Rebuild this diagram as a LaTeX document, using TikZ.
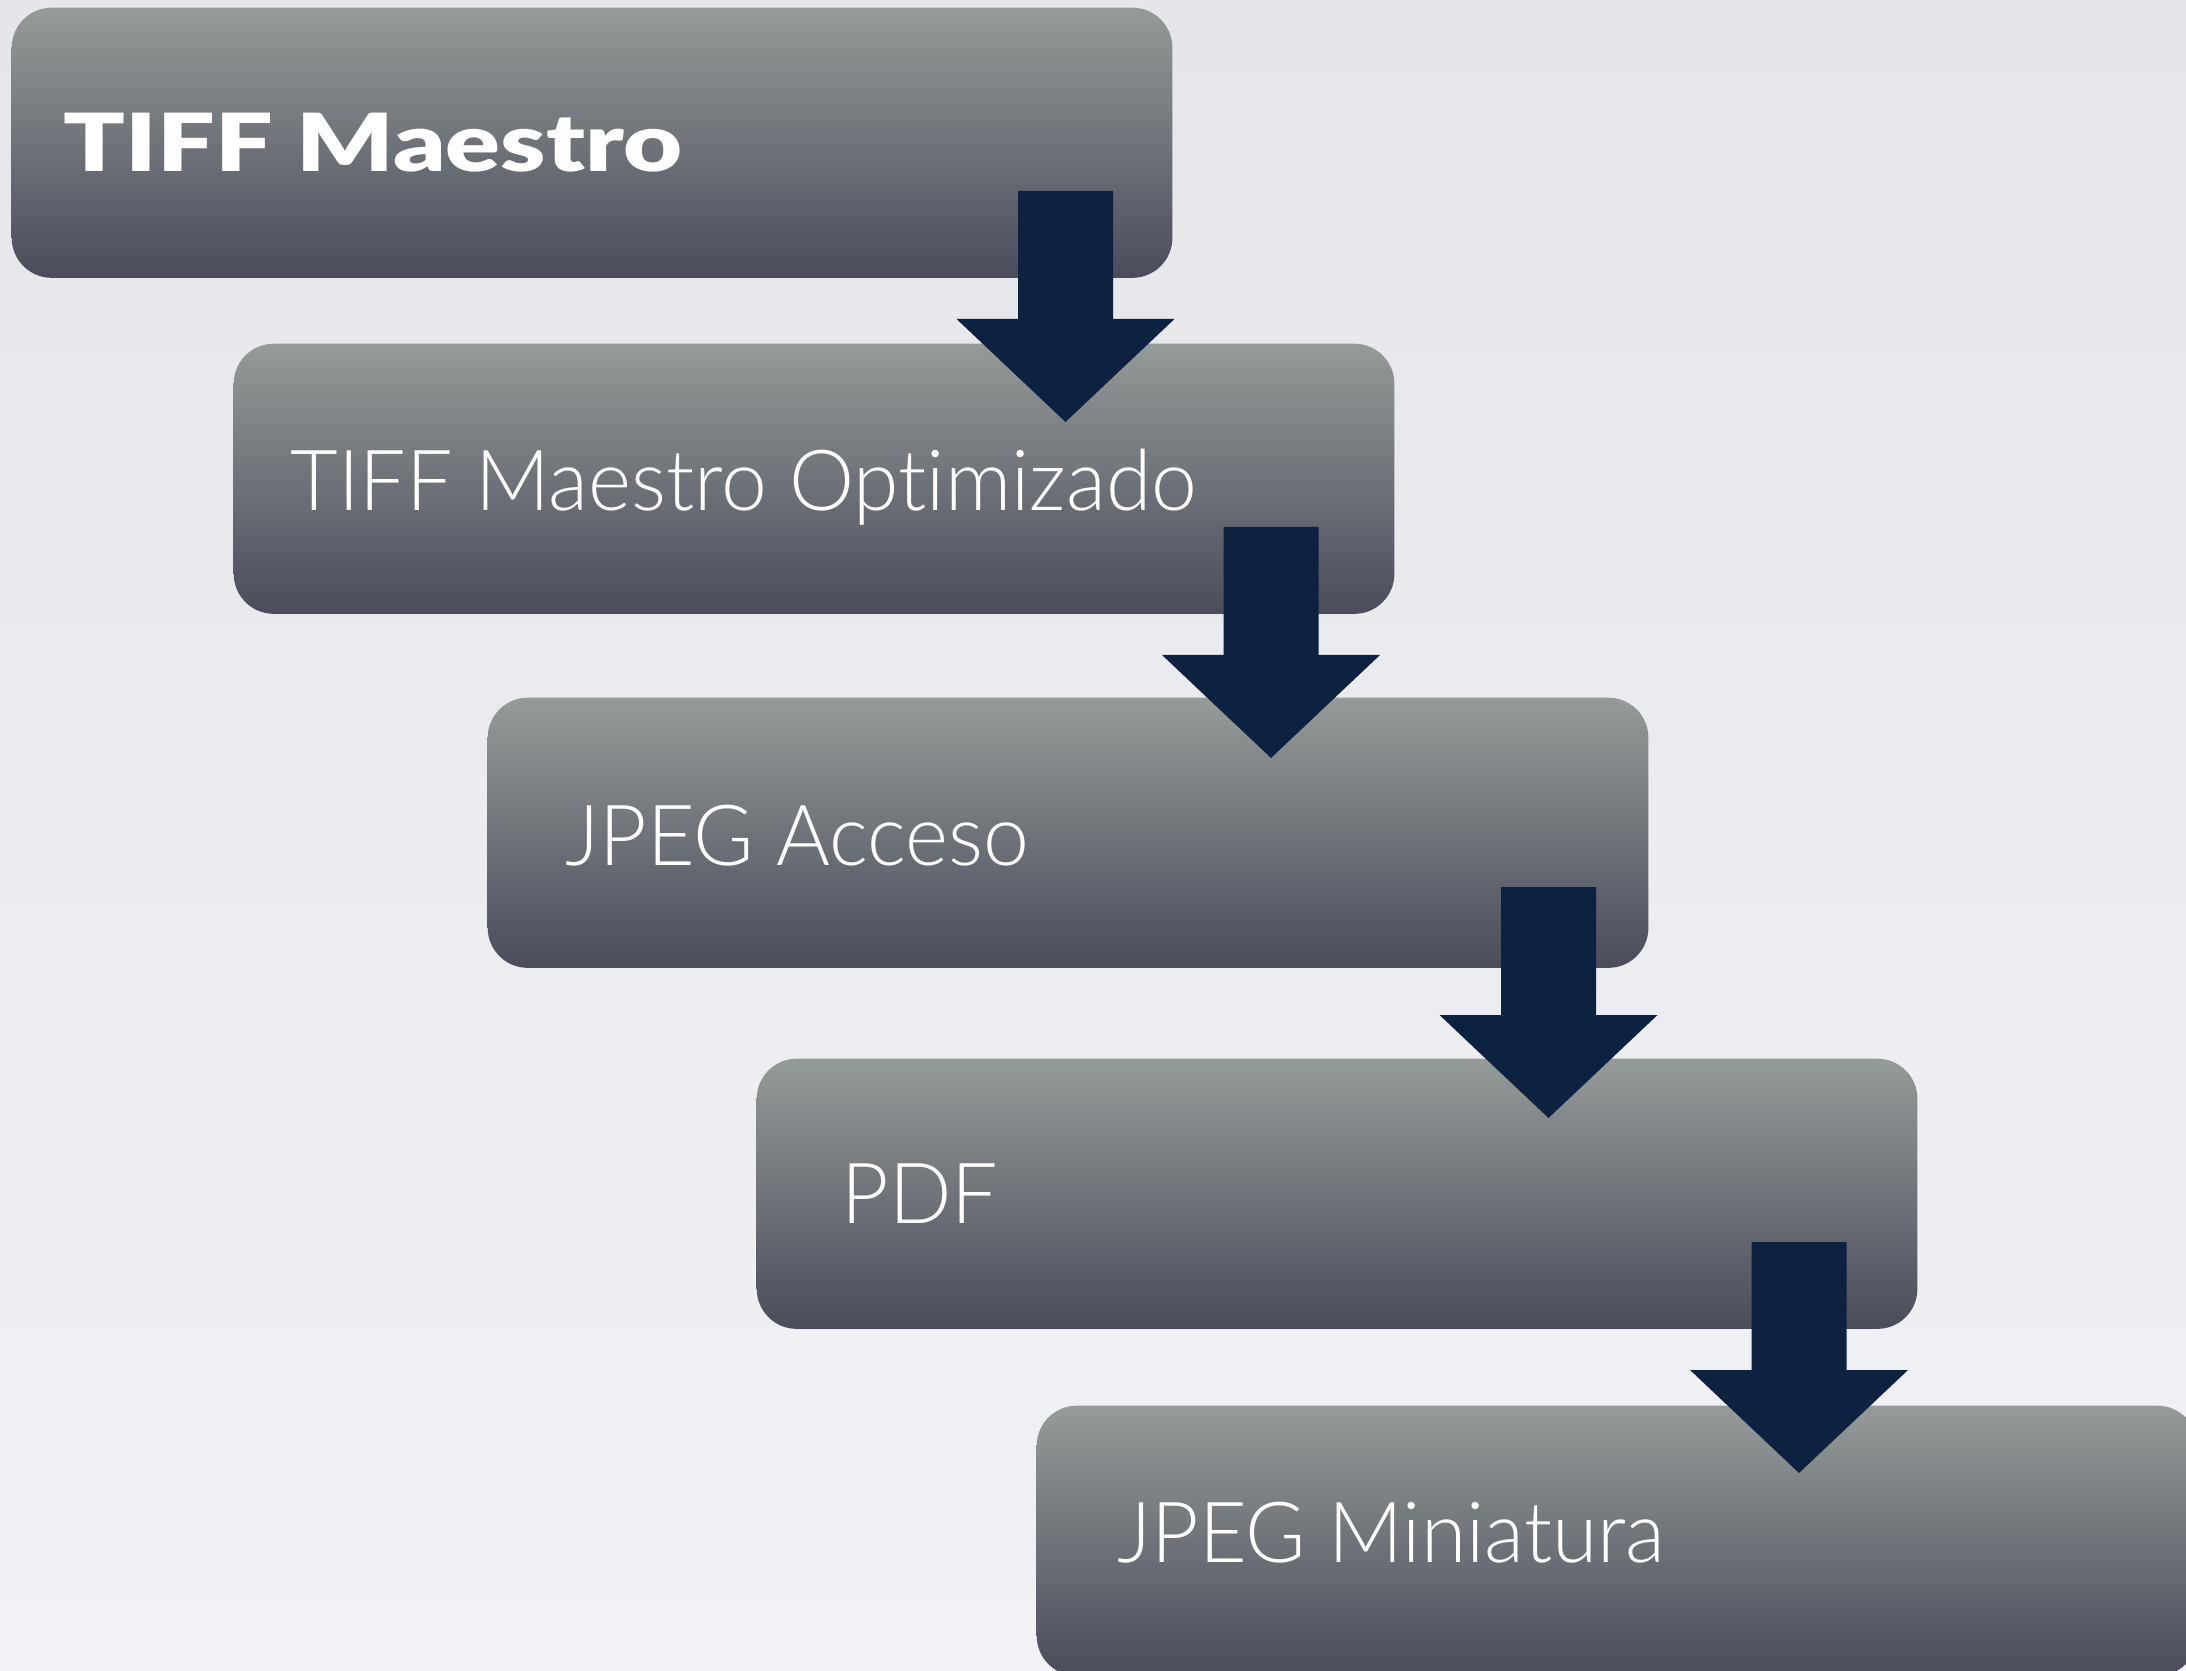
\documentclass[tikz,border=0pt]{standalone}
\usepackage{fontspec}
\newfontfamily\lightfont{Lato Light}[Ligatures={NoCommon}, FakeStretch=0.975]
\newfontfamily\heavyfont{Lato Black}[Ligatures={NoCommon}, FakeStretch=1.27]
\definecolor{bgtop}{RGB}{228,230,234}
\definecolor{bgbot}{RGB}{241,242,245}
\definecolor{boxtop}{RGB}{148,155,152}
\definecolor{boxbot}{RGB}{74,76,91}
\definecolor{arrowc}{RGB}{12,34,64}
\tikzset{
  stepbox/.style={draw=none, rounded corners=0.4cm, top color=boxtop, bottom color=boxbot,
    minimum width=11.6cm, minimum height=2.7cm, anchor=north west, inner sep=0pt},
  steplabel/.style={anchor=base west, inner sep=0pt, text=white, font=\lightfont\fontsize{24}{28}\selectfont},
  blockarrow/.style={fill=arrowc, draw=none}
}
\newcommand\downarrowshape[2]{%
  \fill[blockarrow] ({#1-47.5},{#2}) -- ({#1+47.5},{#2}) -- ({#1+47.5},{#2+128})
    -- ({#1+109},{#2+128}) -- ({#1},{#2+231}) -- ({#1-109},{#2+128})
    -- ({#1-47.5},{#2+128}) -- cycle;}
\begin{document}
\begin{tikzpicture}[x=0.01cm, y=-0.01cm]
\useasboundingbox (0,0) rectangle (2186,1671);
\clip (0,0) rectangle (2186,1671);
\shade[top color=bgtop, bottom color=bgbot] (0,0) rectangle (2186,1671);
% boxes
\node[stepbox] (b1) at (11,7) {};
\node[stepbox] (b2) at (233,343) {};
\node[stepbox] (b3) at (487,697) {};
\node[stepbox] (b4) at (756,1058) {};
\node[stepbox] (b5) at (1036,1405) {};
% arrows
\downarrowshape{1065.5}{191}
\downarrowshape{1271}{527}
\downarrowshape{1548.5}{887}
\downarrowshape{1799}{1242}
% labels
\node[steplabel, font=\heavyfont\fontsize{22.8}{26}\selectfont] (t1) at (63,172) {TIFF Maestro};
\node[steplabel] (t2) at (290,511) {TIFF Maestro Optimizado};
\node[steplabel] (t3) at (565,865) {JPEG Acceso};
\node[steplabel] (t4) at (841,1223) {PDF};
\node[steplabel] (t5) at (1117,1562) {JPEG Miniatura};
\end{tikzpicture}
\end{document}
